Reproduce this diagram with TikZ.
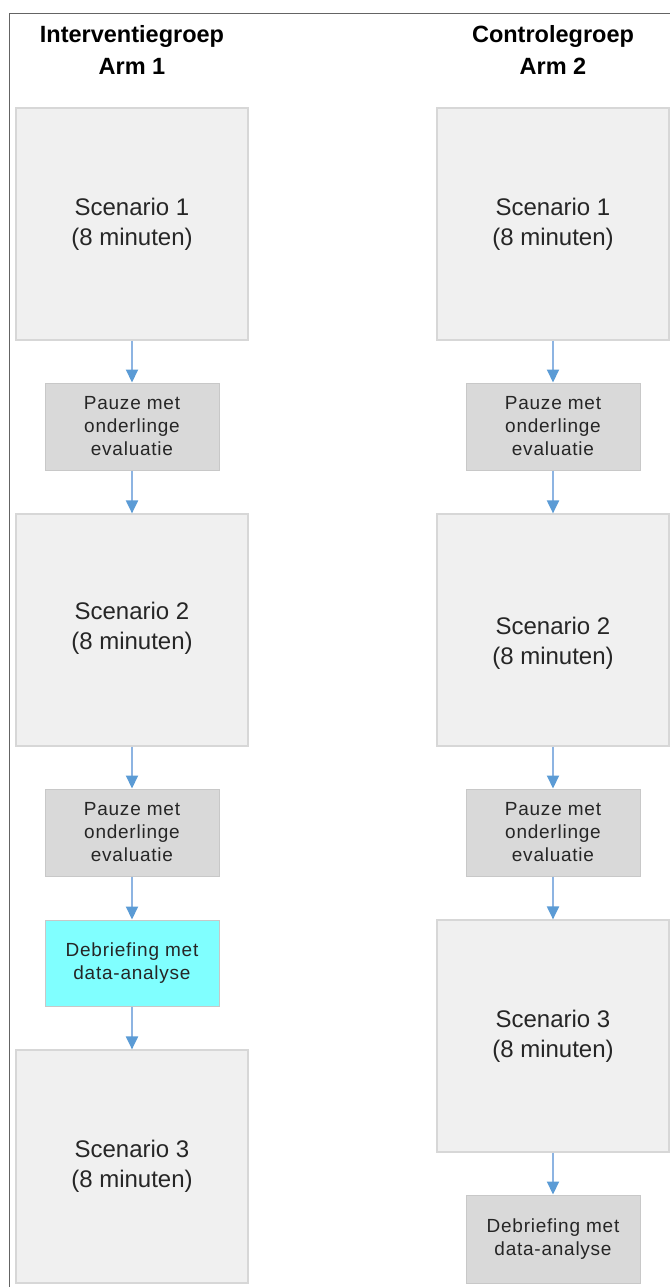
\documentclass[tikz,border=0pt]{standalone}
\usepackage{fontspec}
\setmainfont{Liberation Sans}
\usetikzlibrary{arrows.meta}
\definecolor{scenfill}{RGB}{240,240,240}
\definecolor{scenline}{RGB}{215,215,215}
\definecolor{pzfill}{RGB}{217,217,217}
\definecolor{pzline}{RGB}{200,200,200}
\definecolor{debfill}{RGB}{128,255,255}
\definecolor{arrline}{RGB}{141,180,226}
\definecolor{arrhead}{RGB}{91,155,213}
\definecolor{framec}{RGB}{100,100,100}
\tikzset{
  scenbox/.style={draw=scenline, line width=1.2pt, fill=scenfill, align=center, inner sep=0pt,
     font=\fontsize{24}{30}\selectfont, text=black!85},
  pzbox/.style={draw=pzline, line width=1pt, fill=pzfill, align=center, inner sep=0pt,
     font=\fontsize{19}{23}\selectfont\addfontfeatures{LetterSpace=4}, text=black!85},
  debbox/.style={pzbox, fill=debfill, draw=pzline},
  header/.style={align=center, font=\bfseries\fontsize{23.5}{32}\selectfont},
  flow/.style={draw=arrline, line width=2pt, -{Triangle[length=13pt,width=12pt,color=arrhead]}, shorten >=0pt}
}
\begin{document}
\begin{tikzpicture}[x=1pt,y=-1pt]
\useasboundingbox (0,0) rectangle (670,1287);
\draw[framec, line width=1.2pt] (9.5,1287) -- (9.5,13.5) -- (670,13.5);
% headers
\node[header] (h1) at (132,50) {Interventiegroep\\Arm 1};
\node[header] (h2) at (553,50) {Controlegroep\\Arm 2};
% left column
\node[scenbox, minimum width=232pt, minimum height=232pt] (l1) at (132,224) {Scenario 1\\(8 minuten)};
\node[pzbox, minimum width=174pt, minimum height=87pt] (lp1) at (132,426.5) {Pauze met\\onderlinge\\evaluatie};
\node[scenbox, minimum width=232pt, minimum height=232pt] (l2) at (132,630) {};
\node (l2t) at (132,628) [font=\fontsize{24}{30}\selectfont, text=black!85, align=center, inner sep=0pt] {Scenario 2\\(8 minuten)};
\node[pzbox, minimum width=174pt, minimum height=87pt] (lp2) at (132,832.5) {Pauze met\\onderlinge\\evaluatie};
\node[debbox, minimum width=174pt, minimum height=86pt] (ld) at (132,963) {Debriefing met\\data-analyse};
\node[scenbox, minimum width=232pt, minimum height=233pt] (l3) at (132,1166.5) {Scenario 3\\(8 minuten)};
% right column
\node[scenbox, minimum width=232pt, minimum height=232pt] (r1) at (553,224) {Scenario 1\\(8 minuten)};
\node[pzbox, minimum width=174pt, minimum height=87pt] (rp1) at (553,426.5) {Pauze met\\onderlinge\\evaluatie};
\node[scenbox, minimum width=232pt, minimum height=232pt] (r2) at (553,630) {};
\node (r2t) at (553,643) [font=\fontsize{24}{30}\selectfont, text=black!85, align=center, inner sep=0pt] {Scenario 2\\(8 minuten)};
\node[pzbox, minimum width=174pt, minimum height=87pt] (rp2) at (553,832.5) {Pauze met\\onderlinge\\evaluatie};
\node[scenbox, minimum width=232pt, minimum height=232pt] (r3) at (553,1036) {Scenario 3\\(8 minuten)};
\node[pzbox, minimum width=174pt, minimum height=88pt] (rd) at (553,1239) {Debriefing met\\data-analyse};
% arrows
\draw[flow] (l1.south) -- (lp1.north);
\draw[flow] (lp1.south) -- (l2.north);
\draw[flow] (l2.south) -- (lp2.north);
\draw[flow] (lp2.south) -- (ld.north);
\draw[flow] (ld.south) -- (l3.north);
\draw[flow] (r1.south) -- (rp1.north);
\draw[flow] (rp1.south) -- (r2.north);
\draw[flow] (r2.south) -- (rp2.north);
\draw[flow] (rp2.south) -- (r3.north);
\draw[flow] (r3.south) -- (rd.north);
\end{tikzpicture}
\end{document}
